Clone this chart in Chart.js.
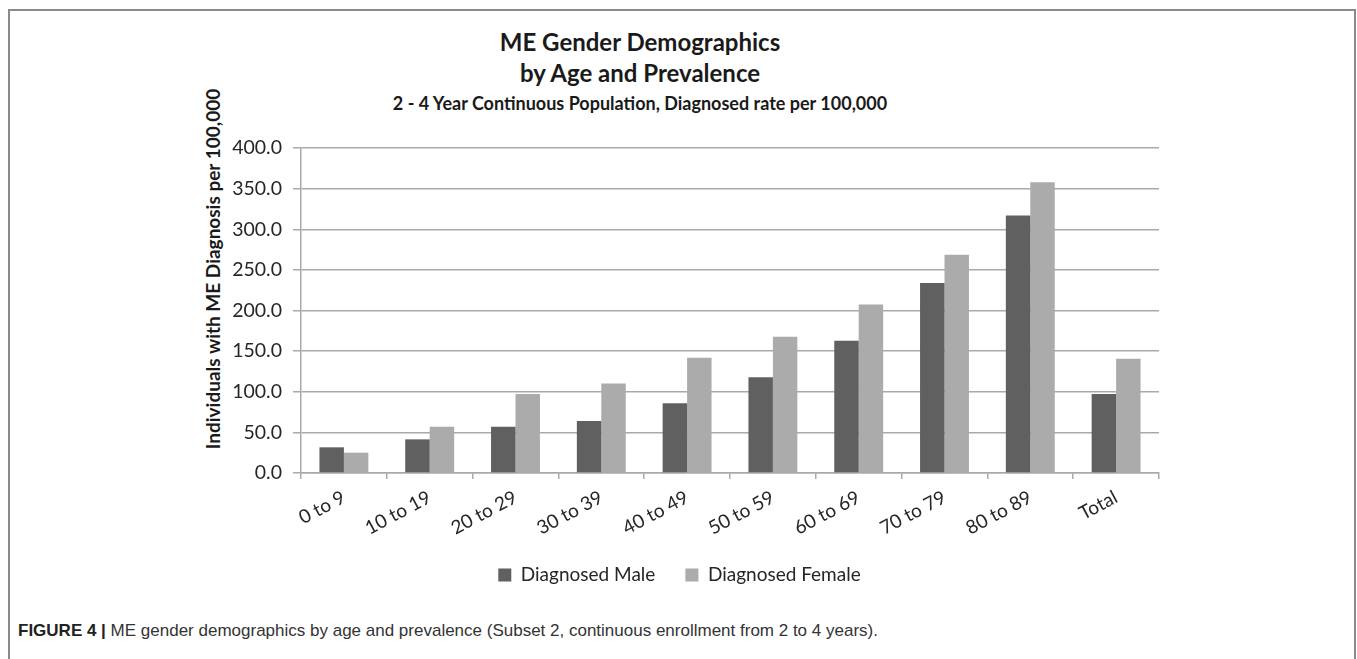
<!DOCTYPE html>
<html>
<head>
<meta charset="utf-8">
<script src="https://cdn.jsdelivr.net/npm/chart.js@4.4.0/dist/chart.umd.min.js"></script>
<style>
  body { margin: 0; background: #fff; width: 1357px; height: 659px; overflow: hidden; position: relative; font-family: Lato, sans-serif; }
  .frame { position: absolute; left: 8px; top: 9px; width: 1348px; height: 700px; border: 2px solid #8a8a8a; box-sizing: border-box; }
  .titles { position: absolute; left: 340px; top: 26px; width: 600px; text-align: center; font-weight: bold; color: #1a1a1a; }
  .titles div { line-height: 31px; }
  .t1 { font-size: 24px; }
  .t2 { font-size: 18px; }
  .ytitle { position: absolute; left: 13px; top: 259px; width: 400px; height: 20px; line-height: 20px; text-align: center;
            font-weight: bold; font-size: 19px; color: #1a1a1a; transform: rotate(-90deg); white-space: nowrap; }
  .wrap { position: absolute; left: 200px; top: 120px; width: 960px; height: 480px; }
  .caption { position: absolute; left: 18px; top: 621px; font-family: "Liberation Sans", Arial, sans-serif; font-size: 17px; color: #333; white-space: nowrap; }
  .caption b { color: #222; }
</style>
</head>
<body>
<div class="frame"></div>
<div class="titles">
  <div class="t1">ME Gender Demographics</div>
  <div class="t1">by Age and Prevalence</div>
  <div class="t2">2 - 4 Year Continuous Population, Diagnosed rate per 100,000</div>
</div>
<div class="ytitle">Individuals with ME Diagnosis per 100,000</div>
<div class="wrap"><canvas id="chart"></canvas></div>
<div class="caption"><b>FIGURE 4 |</b> ME gender demographics by age and prevalence (Subset 2, continuous enrollment from 2 to 4 years).</div>

<script>
const ageGroups = ["0 to 9", "10 to 19", "20 to 29", "30 to 39", "40 to 49", "50 to 59", "60 to 69", "70 to 79", "80 to 89", "Total"];
const maleRate = [31.6, 41.4, 57.0, 64.0, 86.0, 118.0, 162.8, 234.0, 317.0, 97.2];
const femaleRate = [25.0, 57.0, 97.2, 110.3, 141.8, 167.7, 207.5, 268.5, 358.0, 140.6];
const seriesNames = ["Diagnosed Male", "Diagnosed Female"];

const textColor = "#262626";
const gridColor = "#a9a9a9";

new Chart(document.getElementById("chart"), {
  type: "bar",
  data: {
    labels: ageGroups,
    datasets: [
      { label: seriesNames[0], data: maleRate, backgroundColor: "#606060", borderWidth: 0 },
      { label: seriesNames[1], data: femaleRate, backgroundColor: "#ababab", borderWidth: 0 },
    ],
  },
  options: {
    responsive: true,
    maintainAspectRatio: false,
    animation: false,
    categoryPercentage: 0.57,
    barPercentage: 1,
    layout: { padding: { top: 28, right: 1, bottom: 5.5, left: 0 } },
    plugins: {
      tooltip: { enabled: false },
      legend: {
        position: "bottom",
        labels: {
          boxWidth: 13,
          boxHeight: 13,
          padding: 30,
          color: textColor,
          font: { family: "Lato", size: 19 },
        },
      },
    },
    scales: {
      y: {
        min: 0,
        max: 400,
        ticks: {
          stepSize: 50,
          padding: 11,
          color: textColor,
          font: { family: "Lato", size: 19.5 },
          callback: (v) => v.toFixed(1),
        },
        grid: { color: gridColor, lineWidth: 1.5, tickLength: 8 },
        border: { color: gridColor, width: 1.5 },
        afterFit: (s) => { s.width = 101; },
      },
      x: {
        ticks: {
          minRotation: 28,
          maxRotation: 28,
          padding: 7,
          color: textColor,
          font: { family: "Lato", size: 19 },
        },
        grid: { offset: true, drawOnChartArea: false, tickLength: 6, color: gridColor, lineWidth: 1.5 },
        border: { color: gridColor, width: 1.5 },
        afterFit: (s) => { s.height = 62.5; },
      },
    },
  },
});
</script>
</body>
</html>
